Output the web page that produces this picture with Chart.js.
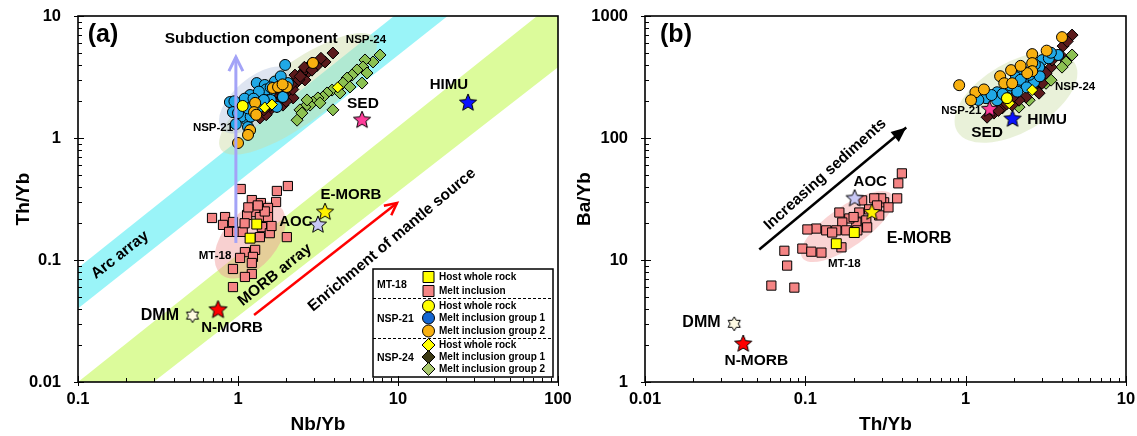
<!DOCTYPE html>
<html>
<head>
<meta charset="utf-8">
<script src="https://cdn.jsdelivr.net/npm/chart.js@4/dist/chart.umd.min.js"></script>
<style>
  body { margin: 0; background: #fff; }
  #boxA { position: absolute; left: 0; top: 0; }
  #boxB { position: absolute; left: 570px; top: 0; }
</style>
</head>
<body>
<div id="boxA"><canvas id="chartA" width="580" height="436"></canvas></div>
<div id="boxB"><canvas id="chartB" width="567" height="436"></canvas></div>
<script>
/* ============================================================
   DATA - panel (a): Nb/Yb vs Th/Yb
   ============================================================ */
const aTicksX = [0.1, 1, 10, 100];
const aTicksY = [0.01, 0.1, 1, 10];

const aMt18Host = [[1.31, 0.197], [1.19, 0.151]];
const aMt18Melt = [
  [2.05, 0.404], [1.75, 0.368], [1.04, 0.382], [1.22, 0.31], [1.39, 0.293], [1.73, 0.299],
  [1.54, 0.267], [1.28, 0.247], [1.14, 0.234], [1.37, 0.225], [1.54, 0.225], [0.688, 0.221],
  [0.83, 0.225], [0.806, 0.194], [0.93, 0.205], [0.88, 0.17], [0.986, 0.17], [1.07, 0.17],
  [1.41, 0.186], [1.58, 0.166], [1.37, 0.154], [2.02, 0.154], [1.28, 0.121], [1.105, 0.116],
  [1.24, 0.106], [1.03, 0.104], [1.22, 0.0945], [0.93, 0.0844], [1.22, 0.0768], [1.105, 0.0726],
  [0.93, 0.06], [1.16, 0.27], [1.47, 0.25], [1.33, 0.28], [1.62, 0.19], [1.1, 0.2]
];
const aNsp21Host = [[1.07, 1.83]];
const aNsp21G1 = [
  [1.97, 3.97], [0.89, 1.97], [0.93, 1.63], [1.31, 2.82], [1.47, 2.72], [1.58, 2.34], [1.43, 2.34],
  [1.83, 2.62], [2.05, 2.82], [1.19, 2.25], [1.14, 1.86], [1.24, 1.63], [1.14, 1.4], [1.155, 1.23],
  [1.03, 1.8], [1.75, 1.8], [1.91, 2.17], [1.37, 1.8], [1.28, 1.97], [1.05, 1.5], [1.6, 2.05],
  [1.1, 2.1], [1.5, 2.5], [1.2, 1.5], [0.97, 1.3], [1.7, 2.9], [1.35, 2.4], [1.6, 2.6],
  [1.15, 1.75], [1.0, 1.6], [1.25, 2.1], [1.45, 2.05], [1.85, 3.2], [0.95, 2.0]
];
const aNsp21G2 = [
  [1.0, 0.91], [1.19, 1.16], [1.155, 1.06], [1.28, 1.94], [1.26, 1.63], [1.65, 2.57],
  [1.78, 2.62], [2.02, 2.62], [2.94, 4.12], [1.9, 2.75], [1.3, 1.55]
];
const aNsp24Host = [[1.47, 1.78], [1.63, 1.88], [4.2, 2.6]];
const aNsp24G1 = [
  [3.92, 4.97], [3.5, 4.2], [2.9, 4.12], [2.74, 3.47], [2.51, 3.41], [2.27, 3.28], [2.34, 2.88],
  [2.62, 2.99], [2.11, 2.62], [2.02, 2.34], [1.83, 2.05], [1.75, 1.8], [1.58, 1.7], [1.43, 1.6],
  [1.37, 1.46], [1.83, 2.47], [2.21, 2.13], [1.91, 1.86], [1.65, 2.25], [2.6, 3.8], [2.4, 3.0],
  [2.0, 2.0], [1.7, 1.95], [2.2, 2.5], [3.1, 3.9], [1.5, 1.55], [3.3, 4.5], [2.9, 3.6],
  [2.45, 3.2], [2.15, 2.75], [1.9, 2.3], [1.6, 1.85], [1.45, 1.7]
];
const aNsp24G2 = [
  [7.72, 4.79], [6.98, 4.2], [6.22, 4.36], [6.04, 3.82], [5.54, 3.61], [6.4, 3.41], [5.16, 3.28],
  [4.8, 3.1], [4.53, 2.82], [3.87, 2.47], [3.6, 2.34], [3.4, 2.17], [3.16, 2.13], [2.94, 1.97],
  [2.82, 1.86], [2.62, 1.8], [2.44, 1.7], [2.51, 1.6], [2.34, 1.4], [3.92, 1.7], [5.96, 2.82],
  [5.01, 2.62], [4.34, 2.34], [3.25, 1.94], [2.7, 2.05]
];
const aEndNames = ["DMM", "N-MORB", "E-MORB", "AOC", "SED", "HIMU"];
const aEndX = [0.52, 0.75, 3.5, 3.16, 5.96, 27.4];
const aEndY = [0.035, 0.039, 0.247, 0.194, 1.40, 1.94];

// array edges (Nb/Yb, Th/Yb) at 0.1 and 100
const arcLow = [[0.1, 0.040], [100, 52]];
const arcHigh = [[0.1, 0.086], [100, 118]];
const morbLow = [[0.1, 0.0033], [100, 3.8]];
const morbHigh = [[0.1, 0.010], [100, 13.7]];
const subductionArrow = [[0.97, 0.138], [0.97, 4.6]];
const enrichArrow = [[1.26, 0.0354], [9.86, 0.293]];

/* ============================================================
   DATA - panel (b): Th/Yb vs Ba/Yb
   ============================================================ */
const bTicksX = [0.01, 0.1, 1, 10];
const bTicksY = [1, 10, 100, 1000];

const bMt18Host = [[0.202, 16.8], [0.156, 13.6]];
const bMt18Melt = [
  [0.40, 51.3], [0.38, 42.5], [0.374, 32.0], [0.31, 29.7], [0.297, 32.0], [0.269, 32.0],
  [0.226, 30.8], [0.217, 24.5], [0.289, 23.2], [0.24, 21.1], [0.208, 20.3], [0.188, 21.9],
  [0.163, 24.5], [0.17, 20.3], [0.156, 17.5], [0.18, 17.5], [0.211, 17.5], [0.243, 18.5],
  [0.168, 12.7], [0.135, 17.5], [0.117, 18.1], [0.103, 17.8], [0.147, 16.8], [0.0958, 12.4],
  [0.109, 11.7], [0.126, 11.5], [0.074, 11.9], [0.077, 9.0], [0.0614, 6.17], [0.0854, 5.94],
  [0.33, 27], [0.25, 26], [0.2, 22.5], [0.28, 28]
];
const bNsp21Host = [[1.81, 212]];
const bNsp21G1 = [
  [3.77, 479], [3.0, 435], [2.87, 381], [2.25, 360], [2.06, 315], [2.31, 281], [2.67, 287],
  [2.06, 261], [1.57, 237], [1.81, 247], [1.34, 212], [1.57, 204], [1.79, 216], [2.5, 330],
  [1.2, 205], [2.9, 320], [2.2, 300], [1.9, 270], [2.7, 400], [3.3, 450], [1.45, 225],
  [2.4, 260], [1.7, 230], [3.4, 500], [2.1, 240]
];
const bNsp21G2 = [
  [0.911, 271], [3.99, 671], [2.6, 487], [2.6, 411], [2.6, 353], [1.64, 321], [1.92, 360],
  [1.74, 281], [1.15, 237], [1.08, 204], [1.95, 281], [2.42, 340], [2.2, 390], [1.3, 250],
  [3.2, 520]
];
const bNsp24Host = [[2.6, 247], [1.87, 193]];
const bNsp24G1 = [
  [4.61, 698], [4.05, 567], [3.41, 381], [3.17, 340], [3.0, 281], [2.75, 247], [2.38, 216],
  [2.15, 204], [1.95, 186], [1.69, 176], [1.5, 160], [1.36, 148], [3.46, 435], [2.87, 233],
  [2.6, 260], [1.8, 190], [4.3, 620], [3.9, 480], [2.5, 290], [2.0, 220], [1.6, 168]
];
const bNsp24G2 = [
  [4.61, 479], [4.23, 419], [3.99, 381], [3.17, 281], [2.49, 204], [2.15, 179], [1.44, 160],
  [3.41, 298]
];
const bEndNames = ["DMM", "N-MORB", "E-MORB", "AOC", "SED", "HIMU"];
const bEndX = [0.036, 0.041, 0.26, 0.203, 1.41, 1.96];
const bEndY = [3.0, 2.05, 24.5, 31.9, 172, 143];
const sedimentArrow = [[0.0516, 12.2], [0.426, 122]];

/* ============================================================
   STYLE HELPERS
   ============================================================ */
const FONT = "'Liberation Sans', Arial, sans-serif";
Chart.defaults.font.family = FONT;
Chart.defaults.color = "#000";

function xy(arr) { return arr.map(p => ({ x: p[0], y: p[1] })); }

function starCanvas(n, R, ratio, fill) {
  const c = document.createElement("canvas");
  const s = Math.ceil(R * 2 + 4);
  c.width = s; c.height = s;
  const g = c.getContext("2d");
  g.translate(s / 2, s / 2);
  g.beginPath();
  for (let i = 0; i < n * 2; i++) {
    const rr = i % 2 ? R * ratio : R;
    const ang = -Math.PI / 2 + i * Math.PI / n;
    g.lineTo(rr * Math.cos(ang), rr * Math.sin(ang));
  }
  g.closePath();
  g.fillStyle = fill; g.fill();
  g.lineWidth = 1; g.strokeStyle = "#000"; g.stroke();
  return c;
}

const starsA = {
  "DMM": starCanvas(6, 7, 0.58, "#fffbe3"),
  "N-MORB": starCanvas(5, 9.5, 0.45, "#ff0000"),
  "E-MORB": starCanvas(5, 9, 0.45, "#fff200"),
  "AOC": starCanvas(5, 9, 0.45, "#c8c8f5"),
  "SED": starCanvas(5, 9, 0.45, "#ff3d9a"),
  "HIMU": starCanvas(5, 9, 0.45, "#0a14ff")
};
const starsB = {
  "DMM": starCanvas(6, 7, 0.58, "#fffbe3"),
  "N-MORB": starCanvas(5, 9, 0.45, "#ff0000"),
  "E-MORB": starCanvas(5, 8.5, 0.45, "#fff200"),
  "AOC": starCanvas(5, 9, 0.45, "#c8c8f5"),
  "SED": starCanvas(5, 8.5, 0.45, "#ff3d9a"),
  "HIMU": starCanvas(5, 9, 0.45, "#0a14ff")
};

function pointSet(label, arr, style, fill, r) {
  return {
    label: label, data: xy(arr), showLine: false,
    pointStyle: style, pointRadius: r,
    pointBackgroundColor: fill, backgroundColor: fill,
    pointBorderColor: "#000", borderColor: "#000", pointBorderWidth: 1
  };
}

function endSet(names, xs, ys, stars) {
  return {
    label: "end-members", showLine: false,
    data: xs.map((v, i) => ({ x: v, y: ys[i] })),
    pointStyle: names.map(n => stars[n]), pointRadius: 10
  };
}

function edgeSet(arr, fill, color) {
  return {
    type: "line", data: xy(arr), pointRadius: 0, borderWidth: 0,
    borderColor: "rgba(0,0,0,0)", backgroundColor: color, fill: fill, tension: 0
  };
}

function arrowSet(arr, color, width, head) {
  return {
    type: "line", data: xy(arr), pointRadius: 0, borderColor: color,
    borderWidth: width, fill: false, tension: 0, arrowHead: head
  };
}

function logAxis(min, max, ticks, title, isX, fit, titlePad) {
  return {
    type: "logarithmic", min: min, max: max, position: isX ? "bottom" : "left",
    grid: { display: false }, border: { display: false },
    afterBuildTicks: s => { s.ticks = ticks.map(v => ({ value: v, major: true })); },
    afterFit: s => {
      if (isX) s.height = fit; else s.width = fit;
      s.paddingLeft = 0; s.paddingRight = 0; s.paddingTop = 0; s.paddingBottom = 0;
    },
    ticks: {
      color: "#000", font: { size: 16.5, weight: "bold" }, padding: isX ? 0 : 9,
      autoSkip: false, maxRotation: 0, callback: v => String(v)
    },
    title: { display: true, text: title, color: "#000", font: { size: 19, weight: "bold" }, padding: titlePad }
  };
}

/* ============================================================
   PLUGINS - frame/ticks, blobs, arrow heads, notes, key
   ============================================================ */
function logSteps(min, max) {
  const out = [];
  for (let e = Math.floor(Math.log10(min)); e <= Math.ceil(Math.log10(max)); e++) {
    for (let k = 1; k < 10; k++) {
      const v = k * Math.pow(10, e);
      if (v >= min * 0.999 && v <= max * 1.001) out.push([v, k === 1]);
    }
  }
  return out;
}

const framePlugin = {
  id: "frame",
  afterDatasetsDraw(chart) {
    const { ctx, chartArea: a, scales: { x, y } } = chart;
    ctx.save();
    ctx.strokeStyle = "#000";
    ctx.lineWidth = 1;
    logSteps(x.min, x.max).forEach(([v, major]) => {
      const p = Math.round(x.getPixelForValue(v)) + 0.5;
      ctx.beginPath();
      ctx.moveTo(p, a.bottom + (major ? 4 : 0));
      ctx.lineTo(p, a.bottom - (major ? 6 : 4));
      ctx.stroke();
    });
    logSteps(y.min, y.max).forEach(([v, major]) => {
      const p = Math.round(y.getPixelForValue(v)) + 0.5;
      ctx.beginPath();
      ctx.moveTo(a.left - (major ? 4 : 0), p);
      ctx.lineTo(a.left + (major ? 6 : 4), p);
      ctx.stroke();
    });
    ctx.lineWidth = 1.6;
    ctx.strokeRect(a.left, a.top, a.right - a.left, a.bottom - a.top);
    ctx.restore();
  }
};

const blobPlugin = {
  id: "blobs",
  beforeDatasetDraw(chart, args, opts) {
    if (args.index !== opts.at) return;
    const { ctx, chartArea: a, scales: { x, y } } = chart;
    ctx.save();
    ctx.beginPath();
    ctx.rect(a.left, a.top, a.right - a.left, a.bottom - a.top);
    ctx.clip();
    opts.list.forEach(e => {
      ctx.beginPath();
      ctx.ellipse(x.getPixelForValue(e.x), y.getPixelForValue(e.y), e.rx, e.ry, e.rot * Math.PI / 180, 0, Math.PI * 2);
      ctx.fillStyle = e.color;
      ctx.fill();
    });
    ctx.restore();
  }
};

const arrowPlugin = {
  id: "arrowHeads",
  afterDatasetsDraw(chart) {
    const ctx = chart.ctx;
    chart.data.datasets.forEach((ds, i) => {
      if (!ds.arrowHead) return;
      const pts = chart.getDatasetMeta(i).data;
      const p0 = pts[pts.length - 2], p1 = pts[pts.length - 1];
      const ang = Math.atan2(p1.y - p0.y, p1.x - p0.x);
      const h = ds.arrowHead;
      ctx.save();
      ctx.translate(p1.x, p1.y);
      ctx.rotate(ang);
      ctx.beginPath();
      ctx.moveTo(-h.len, -h.wid);
      ctx.lineTo(0, 0);
      ctx.lineTo(-h.len, h.wid);
      if (h.filled) {
        ctx.closePath();
        ctx.fillStyle = ds.borderColor;
        ctx.fill();
      } else {
        ctx.strokeStyle = ds.borderColor;
        ctx.lineWidth = ds.borderWidth;
        ctx.lineJoin = "miter";
        ctx.stroke();
      }
      ctx.restore();
    });
  }
};

const notePlugin = {
  id: "notes",
  afterDatasetsDraw(chart, args, opts) {
    const { ctx, chartArea: a, scales: { x, y } } = chart;
    ctx.save();
    ctx.fillStyle = "#000";
    ctx.textAlign = "center";
    ctx.textBaseline = "middle";
    opts.list.forEach(n => {
      ctx.font = "bold " + n.s + "px " + FONT;
      ctx.save();
      ctx.translate(x.getPixelForValue(n.x), y.getPixelForValue(n.y));
      ctx.rotate((n.r || 0) * Math.PI / 180);
      ctx.fillText(n.t, 0, 0);
      ctx.restore();
    });
    ctx.font = "bold 25px " + FONT;
    ctx.fillText(opts.panel, a.left + opts.panelDx, a.top + 19);
    ctx.restore();
  }
};

const keyGroups = [
  { name: "MT-18", rows: [["Host whole rock", "rect", "#ffff00"], ["Melt inclusion", "rect", "#f48484"]] },
  { name: "NSP-21", rows: [["Host whole rock", "circle", "#ffff00"], ["Melt inclusion group 1", "circle", "#1466d2"], ["Melt inclusion group 2", "circle", "#f8b010"]] },
  { name: "NSP-24", rows: [["Host whole rock", "diamond", "#ffff00"], ["Melt inclusion group 1", "diamond", "#3c3a14"], ["Melt inclusion group 2", "diamond", "#a8c86c"]] }
];

function keyMarker(ctx, style, cx, cy, fill) {
  ctx.beginPath();
  if (style === "rect") ctx.rect(cx - 5.5, cy - 5.5, 11, 11);
  else if (style === "circle") ctx.arc(cx, cy, 6, 0, Math.PI * 2);
  else { ctx.moveTo(cx, cy - 6.5); ctx.lineTo(cx + 6.5, cy); ctx.lineTo(cx, cy + 6.5); ctx.lineTo(cx - 6.5, cy); ctx.closePath(); }
  ctx.fillStyle = fill; ctx.fill();
  ctx.strokeStyle = "#000"; ctx.lineWidth = 1; ctx.stroke();
}

const keyPlugin = {
  id: "key",
  afterDatasetsDraw(chart) {
    const { ctx, chartArea: a } = chart;
    const L = a.right - 185, T = a.bottom - 113, W = 180, H = 108;
    const rowY = [[8, 22], [37, 49, 62], [76, 88, 100]];
    const groupY = [16, 50, 89];
    ctx.save();
    ctx.fillStyle = "#fff";
    ctx.fillRect(L, T, W, H);
    ctx.strokeStyle = "#000";
    ctx.lineWidth = 1.5;
    ctx.strokeRect(L, T, W, H);
    ctx.lineWidth = 1;
    ctx.setLineDash([3, 2]);
    [29, 69].forEach(s => {
      ctx.beginPath();
      ctx.moveTo(L, T + s + 0.5);
      ctx.lineTo(L + W, T + s + 0.5);
      ctx.stroke();
    });
    ctx.setLineDash([]);
    ctx.textAlign = "left";
    ctx.textBaseline = "middle";
    keyGroups.forEach((g, gi) => {
      ctx.fillStyle = "#000";
      ctx.font = "bold 10.5px " + FONT;
      ctx.fillText(g.name, L + 4, T + groupY[gi]);
      g.rows.forEach((r, ri) => {
        const yy = T + rowY[gi][ri];
        keyMarker(ctx, r[1], L + 55.5, yy, r[2]);
        ctx.fillStyle = "#000";
        ctx.font = "bold 10px " + FONT;
        ctx.fillText(r[0], L + 66, yy + 0.5);
      });
    });
    ctx.restore();
  }
};

/* ============================================================
   PANEL (a)
   ============================================================ */
new Chart(document.getElementById("chartA"), {
  type: "scatter",
  data: {
    datasets: [
      endSet(aEndNames, aEndX, aEndY, starsA),
      pointSet("MT-18 host", aMt18Host, "rect", "#ffff00", 7),
      pointSet("NSP-21 host", aNsp21Host, "circle", "#ffff00", 5.5),
      pointSet("NSP-24 host", aNsp24Host, "rectRot", "#ffff00", 5.5),
      arrowSet(subductionArrow, "#a3a3f7", 3, { len: 14, wid: 7 }),
      arrowSet(enrichArrow, "#ff0000", 2.5, { len: 12, wid: 6 }),
      pointSet("NSP-21 group 2", aNsp21G2, "circle", "#f8b010", 5.5),
      pointSet("NSP-21 group 1", aNsp21G1, "circle", "#20a8e6", 5.5),
      pointSet("NSP-24 group 1", aNsp24G1, "rectRot", "#5b1a1c", 6),
      pointSet("NSP-24 group 2", aNsp24G2, "rectRot", "#8cc152", 6),
      pointSet("MT-18 melt", aMt18Melt, "rect", "#f48484", 6.5),
      edgeSet(arcLow, false, "rgba(0,0,0,0)"),
      edgeSet(arcHigh, "-1", "#9af4f8"),
      edgeSet(morbLow, false, "rgba(0,0,0,0)"),
      edgeSet(morbHigh, "-1", "#dcfb9b")
    ]
  },
  options: {
    responsive: false,
    animation: false,
    events: [],
    layout: { padding: { top: 16, right: 22, left: 0, bottom: 0 } },
    plugins: {
      legend: { display: false },
      tooltip: { enabled: false },
      blobs: {
        at: 10,
        list: [
          { x: 2.37, y: 2.3, rx: 95, ry: 30, rot: -36, color: "rgba(205,220,165,0.45)" },
          { x: 1.30, y: 2.05, rx: 45, ry: 22, rot: -40, color: "rgba(160,180,215,0.35)" },
          { x: 1.19, y: 0.146, rx: 45, ry: 27, rot: -50, color: "rgba(240,150,150,0.45)" }
        ]
      },
      notes: {
        panel: "(a)", panelDx: 25,
        list: [
          { t: "Subduction component", x: 1.21, y: 6.48, s: 15.5 },
          { t: "NSP-24", x: 6.31, y: 6.36, s: 11.5 },
          { t: "NSP-21", x: 0.698, y: 1.21, s: 11.5 },
          { t: "SED", x: 6.04, y: 1.90, s: 15.5 },
          { t: "HIMU", x: 20.8, y: 2.72, s: 15 },
          { t: "E-MORB", x: 5.08, y: 0.341, s: 15 },
          { t: "AOC", x: 2.30, y: 0.205, s: 15 },
          { t: "MT-18", x: 0.718, y: 0.108, s: 11.5 },
          { t: "DMM", x: 0.325, y: 0.0348, s: 16 },
          { t: "N-MORB", x: 0.917, y: 0.0277, s: 15 },
          { t: "Arc array", x: 0.183, y: 0.11, s: 15.5, r: -38 },
          { t: "MORB array", x: 1.70, y: 0.0754, s: 15.5, r: -39 },
          { t: "Enrichment of mantle source", x: 9.17, y: 0.146, s: 15.5, r: -40 }
        ]
      }
    },
    scales: {
      x: logAxis(0.1, 100, aTicksX, "Nb/Yb", true, 54, { bottom: 0, top: 0 }),
      y: logAxis(0.01, 10, aTicksY, "Th/Yb", false, 78, { top: 12, bottom: 0 })
    }
  },
  plugins: [blobPlugin, arrowPlugin, notePlugin, keyPlugin, framePlugin]
});

/* ============================================================
   PANEL (b)
   ============================================================ */
new Chart(document.getElementById("chartB"), {
  type: "scatter",
  data: {
    datasets: [
      endSet(bEndNames, bEndX, bEndY, starsB),
      pointSet("MT-18 host", bMt18Host, "rect", "#ffff00", 7),
      pointSet("NSP-21 host", bNsp21Host, "circle", "#ffff00", 5.5),
      pointSet("NSP-24 host", bNsp24Host, "rectRot", "#ffff00", 5.5),
      arrowSet(sedimentArrow, "#000000", 2.5, { len: 15, wid: 6.5, filled: true }),
      pointSet("NSP-21 group 2", bNsp21G2, "circle", "#f8b010", 5.5),
      pointSet("NSP-21 group 1", bNsp21G1, "circle", "#20a8e6", 5.5),
      pointSet("NSP-24 group 1", bNsp24G1, "rectRot", "#5b1a1c", 6),
      pointSet("NSP-24 group 2", bNsp24G2, "rectRot", "#8cc152", 6),
      pointSet("MT-18 melt", bMt18Melt, "rect", "#f48484", 6.5)
    ]
  },
  options: {
    responsive: false,
    animation: false,
    events: [],
    layout: { padding: { top: 16, right: 11, left: 0, bottom: 0 } },
    plugins: {
      legend: { display: false },
      tooltip: { enabled: false },
      blobs: {
        at: 9,
        list: [
          { x: 2.06, y: 216, rx: 68, ry: 35, rot: -30, color: "rgba(215,230,185,0.55)" },
          { x: 0.183, y: 18.8, rx: 55, ry: 20, rot: -35, color: "rgba(245,170,170,0.5)" }
        ]
      },
      notes: {
        panel: "(b)", panelDx: 31,
        list: [
          { t: "AOC", x: 0.254, y: 44, s: 15 },
          { t: "E-MORB", x: 0.513, y: 15.0, s: 16 },
          { t: "MT-18", x: 0.175, y: 9.33, s: 11.5 },
          { t: "DMM", x: 0.0225, y: 3.06, s: 16 },
          { t: "N-MORB", x: 0.0495, y: 1.49, s: 15.5 },
          { t: "SED", x: 1.36, y: 111, s: 15.5 },
          { t: "HIMU", x: 3.22, y: 140, s: 15.5 },
          { t: "NSP-21", x: 0.94, y: 166, s: 11.5 },
          { t: "NSP-24", x: 4.81, y: 261, s: 11.5 },
          { t: "Increasing sediments", x: 0.133, y: 50.3, s: 15.5, r: -42 }
        ]
      }
    },
    scales: {
      x: logAxis(0.01, 10, bTicksX, "Th/Yb", true, 54, { bottom: 0, top: 0 }),
      y: logAxis(1, 1000, bTicksY, "Ba/Yb", false, 75, { top: 3, bottom: 0 })
    }
  },
  plugins: [blobPlugin, arrowPlugin, notePlugin, framePlugin]
});
</script>
</body>
</html>
